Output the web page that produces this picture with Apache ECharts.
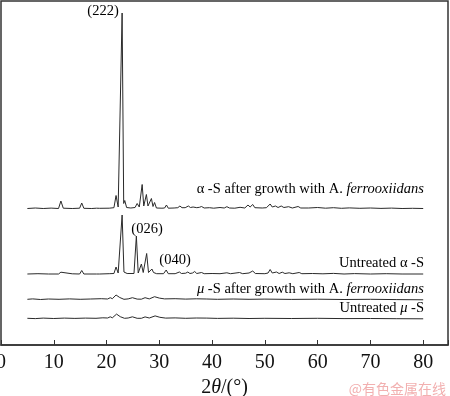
<!DOCTYPE html>
<html>
<head>
<meta charset="utf-8">
<title>XRD patterns of sulfur</title>
<script src="https://cdn.jsdelivr.net/npm/echarts@6/dist/echarts.min.js"></script>
<style>
  html, body { margin: 0; padding: 0; background: #fff; }
  #chart { width: 450px; height: 396px; }
</style>
</head>
<body>
<div id="chart"></div>
<script>
// 2θ (°) / relative intensity
const alphaGrown = [
  [5.0, 0], [6.5, 0.5], [8.0, 0], [9.5, 0.4], [10.9, 0], [11.35, 7.5], [11.8, 0.3],
  [13.5, 0], [14.9, 0.3], [15.3, 5.5], [15.7, 0.2], [17.2, 0], [18.1, 0.3], [18.4, 2],
  [18.7, 0.2], [20.5, 0.3], [21.4, 0.8], [21.8, 13], [22.2, 1.5], [22.5, 2.5],
  [22.95, 195.5], [23.25, 5], [23.45, 8], [23.8, 1], [24.6, 0.5], [25.4, 1], [25.8, 5],
  [26.2, 1.5], [26.45, 3], [26.75, 24], [27.05, 2.5], [27.25, 3], [27.55, 14],
  [27.85, 2.5], [28.2, 2.5], [28.5, 10], [28.8, 2], [29.1, 6], [29.45, 0.5], [30.5, 0.3],
  [31.0, 0.5], [31.35, 3.5], [31.7, 0.3], [32.8, 0.5], [33.5, 0.8], [33.9, 2.5],
  [34.3, 0.8], [34.6, 2], [34.9, 0.8], [35.5, 2.5], [35.9, 1], [36.4, 1.5], [36.7, 2.5],
  [37.1, 0.8], [37.6, 1.2], [38.0, 2], [38.5, 0.5], [39.5, 0.8], [40.3, 0.3], [41.5, 1],
  [42.3, 0.5], [42.8, 1.8], [43.3, 0.5], [44.3, 0.3], [45.3, 1.2], [46.2, 0.5],
  [46.8, 3.5], [47.2, 1.5], [47.7, 4], [48.1, 0.8], [49.5, 0.5], [50.3, 0.8], [51.0, 4.5],
  [51.4, 1.5], [52.0, 2.5], [52.5, 1], [53.1, 2.5], [53.6, 1], [54.5, 1.8], [55.2, 0.5],
  [56.3, 2], [56.8, 0.5], [58.3, 0.5], [60.0, 1], [61.5, 0.3], [63.0, 0.8], [64.5, 0.2],
  [66.0, 0.6], [68.0, 0.2], [70.0, 0.5], [72.0, 0.1], [74.0, 0.4], [76.0, 0], [78.0, 0.2],
  [80.0, 0]
]
const alphaUntreated = [
  [5.0, 0], [7.0, 0.3], [9.0, 0], [10.9, 0], [11.35, 1.8], [11.7, 0], [13.5, 0.2],
  [14.9, 0], [15.3, 3.5], [15.7, 0], [18.1, 0], [18.4, 1], [18.7, 0], [20.5, 0.3],
  [21.4, 0.5], [21.8, 7], [22.2, 1], [22.5, 1.5], [22.95, 59], [23.3, 2], [23.5, 3],
  [23.9, 0.5], [25.2, 0.5], [25.65, 38], [26.0, 1], [26.3, 1.5], [26.6, 10], [26.95, 1.5],
  [27.25, 1.5], [27.6, 20.5], [27.95, 1.5], [28.3, 2], [28.6, 5], [28.9, 1.5], [29.2, 2],
  [29.5, 0.3], [30.8, 0.3], [31.3, 4], [31.7, 0.3], [33.0, 0.3], [33.8, 2], [34.2, 0.5],
  [35.0, 0.8], [35.4, 2], [35.8, 0.5], [36.3, 1], [36.7, 2.5], [37.1, 0.5], [38.0, 1.5],
  [38.5, 0.3], [40.0, 0.5], [41.5, 0.3], [42.8, 1.2], [43.5, 0.3], [45.2, 1.5],
  [45.8, 0.3], [47.0, 1], [47.7, 3], [48.2, 0.5], [50.0, 0.3], [50.6, 1], [51.0, 4.5],
  [51.4, 1], [52.2, 2], [52.7, 0.5], [53.3, 1.8], [53.8, 0.5], [54.6, 1.2], [55.3, 0.3],
  [56.5, 1.5], [57.0, 0.3], [59.0, 0.5], [61.0, 0.2], [63.0, 0.6], [65.0, 0], [67.0, 0.4],
  [70.0, 0], [73.0, 0.3], [76.0, 0], [80.0, 0]
]
const muGrown = [
  [5.0, 0], [6.0, 0.4], [7.5, -0.2], [9.0, 0.3], [11.0, 0], [13.0, 0.4], [15.0, 0],
  [17.0, 0.3], [19.0, 0.6], [20.2, 0.3], [20.7, 1.6], [21.1, 0.6], [21.8, 4.3],
  [22.5, 1.8], [23.3, 0], [24.1, 0.4], [24.9, 1.6], [25.8, 0.2], [26.6, 0.1],
  [27.3, 1.6], [28.1, 0.4], [29.1, 2.6], [30.0, 1.2], [31.0, 0.4], [33.0, 0.6],
  [35.0, 0.2], [37.0, 0.5], [39.0, 0.3], [41.0, 0], [44.0, 0.3], [47.0, 0], [50.0, 0.2],
  [55.0, -0.1], [60.0, 0.1], [65.0, -0.2], [70.0, 0], [75.0, -0.3], [80.0, -0.5]
]
const muUntreated = [
  [5.0, 0], [6.5, -0.3], [8.0, 0.2], [10.0, -0.2], [12.0, 0.2], [14.0, -0.1], [16.0, 0.2],
  [18.0, 0], [19.3, 0.5], [20.2, 0.3], [20.7, 1.5], [21.1, 0.5], [21.9, 4.2],
  [22.6, 1.6], [23.4, 0], [24.1, 0.3], [24.9, 1.5], [25.8, 0], [26.6, 0],
  [27.3, 1.4], [28.1, 0.3], [29.2, 2.4], [30.1, 1], [31.2, 0.2], [33.0, 0.4],
  [35.0, 0], [37.0, 0.3], [39.0, 0.2], [41.0, -0.1], [44.0, 0.1], [47.0, -0.2],
  [50.0, 0], [55.0, -0.2], [60.0, 0], [65.0, -0.3], [70.0, -0.2], [75.0, -0.4], [80.0, -0.5]
]
// vertical stacking offset of each pattern
const traces = [muUntreated, muGrown, alphaUntreated, alphaGrown]
const offsets = [26.7, 45.7, 71, 136.5]
const xTicks = [0, 10, 20, 30, 40, 50, 60, 70, 80]

const serif = "'Liberation Serif', 'Times New Roman', serif"
const chart = echarts.init(document.getElementById('chart'), null, { renderer: 'canvas' })

const series = traces.map((t, i) => ({
  type: 'line',
  showSymbol: false,
  silent: true,
  lineStyle: { color: '#2a2a2a', width: 1 },
  data: t.map(p => [p[0], p[1] + offsets[i]])
}))

const labelRich = {
  n: { fontFamily: serif, fontSize: 14.5, color: '#111' },
  i: { fontFamily: serif, fontSize: 14.5, color: '#111', fontStyle: 'italic' }
}
function label(text, x, y, align) {
  return {
    type: 'text',
    x: x,
    y: y,
    style: {
      text: text,
      rich: labelRich,
      align: align || 'right',
      verticalAlign: 'middle'
    }
  }
}

const option = {
  animation: false,
  backgroundColor: '#fff',
  grid: {
    left: 1, right: 2, top: 1, bottom: 51,
    containLabel: false,
    outerBoundsMode: 'none',
    show: true,
    borderColor: '#333',
    borderWidth: 1.5
  },
  xAxis: {
    type: 'value',
    min: 0,
    max: 84.7,
    interval: 10,
    name: '{n|2}{i|θ}{n|/(°)}',
    nameLocation: 'middle',
    nameGap: 29,
    nameTextStyle: {
      rich: {
        n: { fontFamily: serif, fontSize: 20, color: '#111' },
        i: { fontFamily: serif, fontSize: 20, color: '#111', fontStyle: 'italic' }
      }
    },
    axisLine: { show: true, lineStyle: { color: '#333', width: 1.5 } },
    axisTick: { show: true, inside: true, length: 5, lineStyle: { color: '#333' } },
    axisLabel: {
      margin: 8,
      fontSize: 20,
      fontFamily: serif,
      color: '#111',
      hideOverlap: false,
      formatter: v => (xTicks.includes(v) ? String(v) : '')
    },
    splitLine: { show: false }
  },
  yAxis: {
    type: 'value',
    min: 0,
    max: 344,
    show: false
  },
  series: series,
  graphic: [
    label('{n|α -S after growth with A. }{i|ferrooxiidans}', 424, 189),
    label('{n|Untreated α -S}', 424, 263),
    label('{i|μ}{n| -S after growth with A. }{i|ferrooxiidans}', 424, 289),
    label('{n|Untreated }{i|μ}{n| -S}', 424, 308.5),
    label('{n|(222)}', 103, 11, 'center'),
    label('{n|(026)}', 147, 229.5, 'center'),
    label('{n|(040)}', 175, 260, 'center'),
    {
      type: 'text',
      x: 446,
      y: 389,
      style: {
        text: '@有色金属在线',
        fontFamily: "'Noto Sans CJK SC', sans-serif",
        fontSize: 14,
        fill: '#f2b0b0',
        align: 'right',
        verticalAlign: 'middle'
      }
    }
  ]
}
chart.setOption(option)
</script>
</body>
</html>
